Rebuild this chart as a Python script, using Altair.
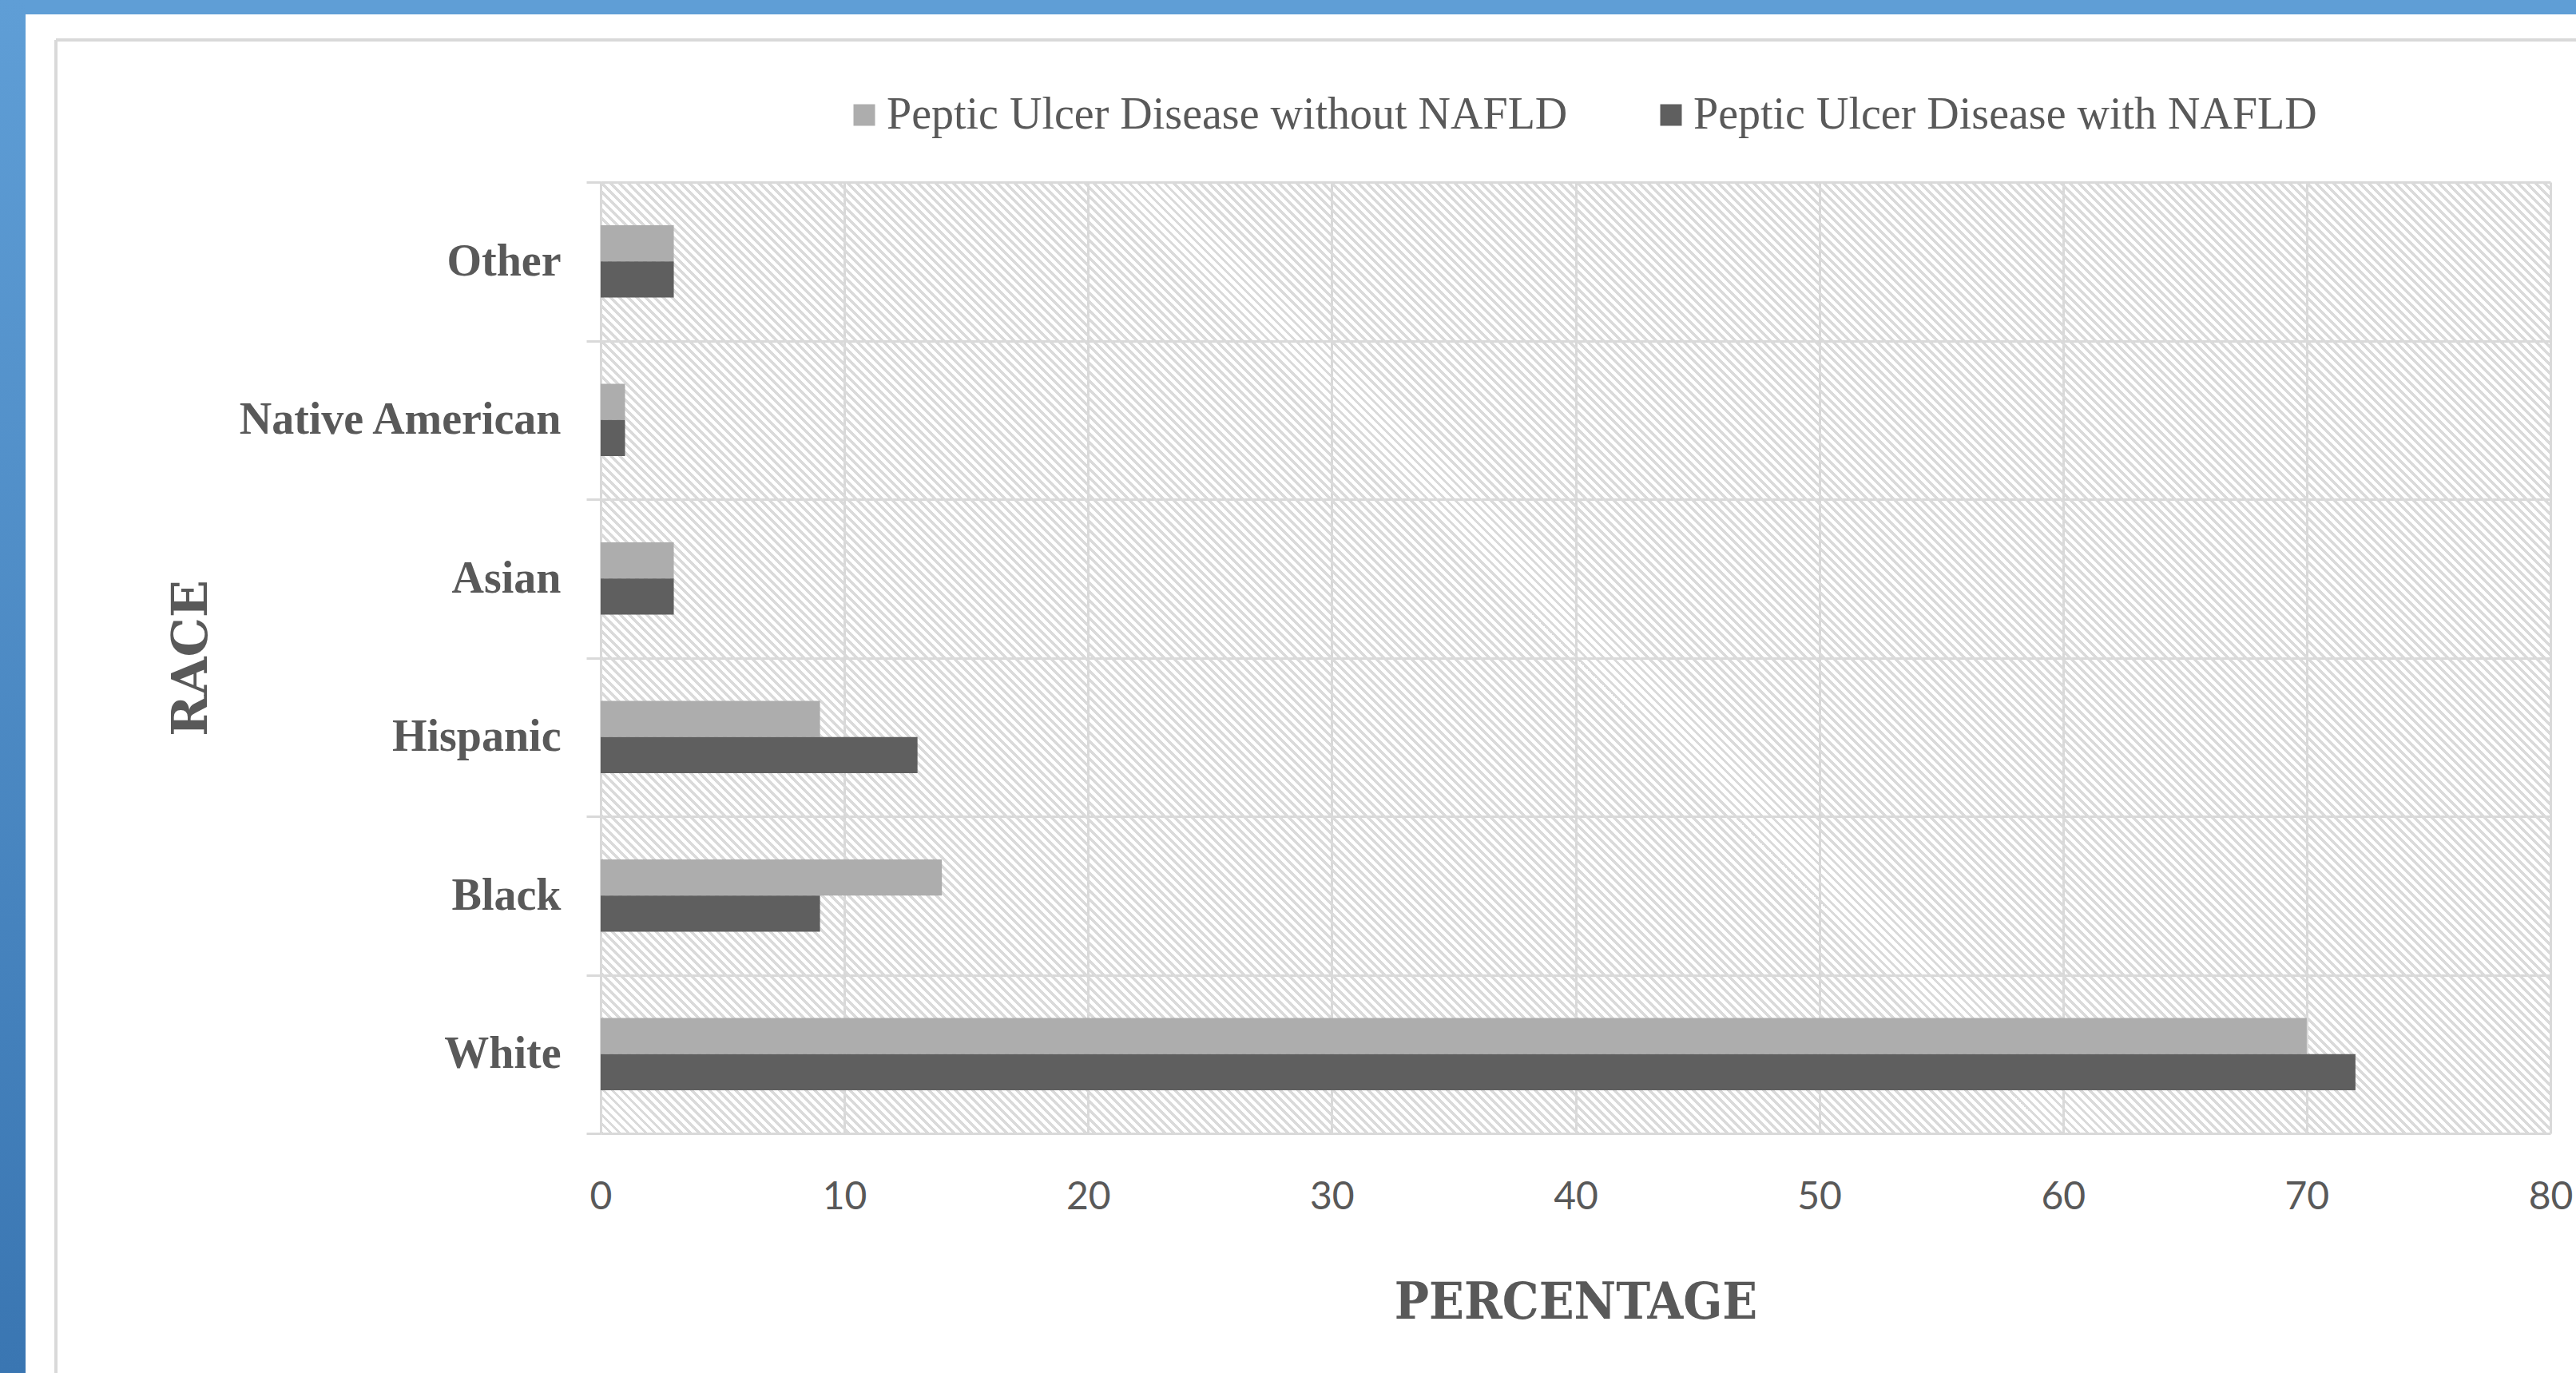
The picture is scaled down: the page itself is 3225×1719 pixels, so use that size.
import altair as alt
import pandas as pd

# ---------------- data ----------------
races = ["Other", "Native American", "Asian", "Hispanic", "Black", "White"]
without_nafld = [3, 1, 3, 9, 14, 70]
with_nafld = [3, 1, 3, 13, 9, 72]
series = ["Peptic Ulcer Disease without NAFLD", "Peptic Ulcer Disease with NAFLD"]
series_colors = ["#ADADAD", "#5F5F5F"]
x_ticks = [0, 10, 20, 30, 40, 50, 60, 70, 80]

rows = []
for r, a, b in zip(races, without_nafld, with_nafld):
    rows.append({"race": r, "series": series[0], "pct": a})
    rows.append({"race": r, "series": series[1], "pct": b})
df = pd.DataFrame(rows)

# ---------------- layout ----------------
W, H = 2441, 1191
PAD = {"left": 752, "top": 228, "right": 32, "bottom": 300}
GRID = "#d9d9d9"
TXT = "#595959"
BAND = H / len(races)

# diagonal hatch for the plot background (a striped linear gradient)
r = H / W
k = (1 + r) / (1 + r * r)
n = round((W + H) / 11)
stops = []
for i in range(n):
    t0 = i / n
    t1 = (i + 0.45) / n
    t2 = (i + 1) / n
    stops += [
        {"offset": round(t0, 6), "color": "#dadada"},
        {"offset": round(t1, 6), "color": "#dadada"},
        {"offset": round(t1, 6), "color": "rgba(255,255,255,0)"},
        {"offset": round(t2, 6), "color": "rgba(255,255,255,0)"},
    ]
hatch = {"gradient": "linear", "x1": 0, "y1": 1, "x2": k, "y2": 1 - k * r, "stops": stops}

blue_grad = {
    "gradient": "linear", "x1": 0, "y1": 0, "x2": 0, "y2": 1,
    "stops": [{"offset": 0, "color": "#5F9ED6"}, {"offset": 1, "color": "#3A76B2"}],
}

one = alt.Data(values=[{"k": 0}])

# ---------------- axes / legend ----------------
x_axis = alt.Axis(
    values=x_ticks, title="PERCENTAGE", grid=True, gridColor=GRID, gridWidth=3,
    ticks=False, domain=False, labelFlush=False,
    labelFont="Lato", labelFontSize=48, labelColor=TXT, labelPadding=56,
    titleFont="DejaVu Serif Condensed, DejaVu Serif", titleFontWeight="bold",
    titleFontSize=64, titleColor=TXT, titleX=W / 2, titleY=231,
    titleAlign="center", titleBaseline="alphabetic",
)
y_axis = alt.Axis(
    title="RACE", tickBand="extent", grid=True, gridColor=GRID, gridWidth=3,
    ticks=True, tickSize=18, tickColor=GRID, tickWidth=3, domain=False,
    labelFont="Liberation Serif", labelFontWeight="bold", labelFontSize=56,
    labelColor=TXT, labelPadding=32, labelLimit=1000,
    titleFont="DejaVu Serif", titleFontWeight="bold", titleFontSize=62,
    titleColor=TXT, titleAngle=270, titleX=-494, titleY=H / 2,
    titleAlign="center", titleBaseline="alphabetic",
)
legend = alt.Legend(
    title=None, orient="none", legendX=302, legendY=-112, direction="horizontal",
    symbolType="square", symbolSize=729, symbolStrokeWidth=0, symbolOpacity=1,
    labelFont="Liberation Serif", labelFontSize=56, labelColor=TXT,
    labelOffset=0, columnPadding=101, labelLimit=2000,
)

x_scale = alt.Scale(domain=[0, 80], nice=False, zero=True)

# ---------------- frame decoration (slide border) ----------------
top_strip = alt.Chart(one).mark_rect(color="#5F9ED6").encode(
    x=alt.value(-PAD["left"]), x2=alt.value(W + PAD["right"]),
    y=alt.value(-PAD["top"]), y2=alt.value(-PAD["top"] + 18),
)
left_strip = alt.Chart(one).mark_rect(fill=blue_grad).encode(
    x=alt.value(-PAD["left"]), x2=alt.value(-PAD["left"] + 32),
    y=alt.value(-PAD["top"]), y2=alt.value(H + PAD["bottom"]),
)
frame_top = alt.Chart(one).mark_rule(color=GRID, strokeWidth=4).encode(
    x=alt.value(70 - PAD["left"]), x2=alt.value(W + PAD["right"]),
    y=alt.value(50 - PAD["top"]),
)
frame_left = alt.Chart(one).mark_rule(color=GRID, strokeWidth=4).encode(
    x=alt.value(70 - PAD["left"]),
    y=alt.value(50 - PAD["top"]), y2=alt.value(H + PAD["bottom"]),
)

# ---------------- plot ----------------
hatch_layer = alt.Chart(one).mark_rect(fill=hatch).encode(
    x=alt.X(datum=0, scale=x_scale, axis=x_axis),
    x2=alt.X2(datum=80),
)

bar_lo = BAND * 0.272
bar_hi = BAND * 0.728
bars = alt.Chart(df).mark_bar().encode(
    x=alt.X("pct:Q", scale=x_scale, axis=x_axis),
    y=alt.Y("race:N", sort=races, scale=alt.Scale(paddingInner=0, paddingOuter=0), axis=y_axis),
    yOffset=alt.YOffset("series:N", sort=series,
                        scale=alt.Scale(range=[bar_lo, bar_hi], paddingInner=0, paddingOuter=0)),
    color=alt.Color("series:N", sort=series, scale=alt.Scale(domain=series, range=series_colors), legend=legend),
)

chart = alt.layer(top_strip, left_strip, frame_top, frame_left, hatch_layer, bars).properties(
    width=W, height=H, padding=PAD,
    autosize=alt.AutoSizeParams(type="none"),
    background="white",
).configure_view(stroke=None)

chart.save("out.html", embed_options={"renderer": "svg", "actions": False})
